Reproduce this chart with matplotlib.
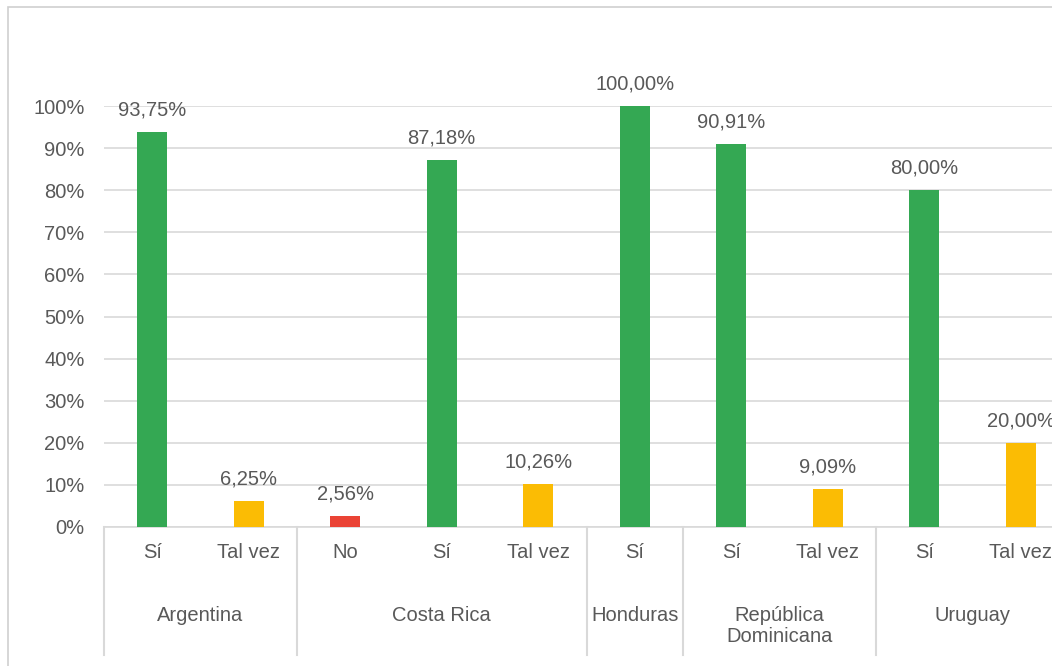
import numpy as np
import matplotlib
matplotlib.use("Agg")
import matplotlib.pyplot as plt
from matplotlib.patches import Rectangle

plt.rcParams['font.family'] = ['Liberation Sans', 'DejaVu Sans']

# data
countries = ['Argentina', 'Costa Rica', 'Honduras', 'República\nDominicana', 'Uruguay']
answers = [['Sí', 'Tal vez'], ['No', 'Sí', 'Tal vez'], ['Sí'], ['Sí', 'Tal vez'], ['Sí', 'Tal vez']]
values = [[93.75, 6.25], [2.56, 87.18, 10.26], [100.00], [90.91, 9.09], [80.00, 20.00]]
colors = {'Sí': '#34A853', 'Tal vez': '#FBBC04', 'No': '#EA4335'}

txt = '#595959'
line = '#d9d9d9'
fs = 14.5

fig = plt.figure(figsize=(10.52, 6.66), dpi=100)
ax = fig.add_axes([104/1052, 139/666, 965/1052, 421/666])

labels, vals, cols, groups = [], [], [], []
for c, ans, v in zip(countries, answers, values):
    start = len(labels)
    for a, x in zip(ans, v):
        labels.append(a)
        vals.append(x / 100)
        cols.append(colors[a])
    groups.append((c, start, len(labels) - 1))

pos = np.arange(len(vals))
bars = ax.bar(pos, vals, width=0.31, color=cols, zorder=3)
for p, v in zip(pos, vals):
    ax.annotate(f'{v*100:.2f}%'.replace('.', ','), (p, v), xytext=(0, 9),
                textcoords='offset points', ha='center', va='bottom',
                fontsize=fs, color=txt, annotation_clip=False)

ax.set_xlim(-0.5, len(vals) - 0.5)
ax.set_ylim(0, 1.0)
ax.set_yticks(np.arange(0, 1.01, 0.1))
ax.set_yticklabels([f'{int(round(t*100))}%' for t in np.arange(0, 1.01, 0.1)])
ax.tick_params(axis='y', length=0, pad=14, labelsize=fs, labelcolor=txt)
ax.set_xticks([])
ax.grid(axis='y', color=line, lw=1.2, zorder=0)
for s in ['top', 'right', 'left']:
    ax.spines[s].set_visible(False)
ax.spines['bottom'].set_color(line)
ax.spines['bottom'].set_linewidth(1.2)

tr = ax.get_xaxis_transform()
for p, lab in zip(pos, labels):
    ax.text(p, -0.06, lab, transform=tr, ha='center', va='center', fontsize=fs, color=txt)
for c, a, b in groups:
    yy = -0.236 if '\n' in c else -0.21
    ax.text((a + b) / 2, yy, c, transform=tr, ha='center', va='center',
            fontsize=fs, color=txt, linespacing=1.15)
    ax.plot([a - 0.5, a - 0.5], [0, -0.304], transform=tr, color=line, lw=1.5, clip_on=False)
ax.plot([len(vals) - 0.5] * 2, [0, -0.304], transform=tr, color=line, lw=1.5, clip_on=False)

fig.add_artist(Rectangle((8/1052, -0.05), 1.2, (666 - 6.5)/666 + 0.05,
                         transform=fig.transFigure, fill=False, edgecolor='#cfcfcf', lw=1.2))

fig.savefig('out.png', dpi=100)
